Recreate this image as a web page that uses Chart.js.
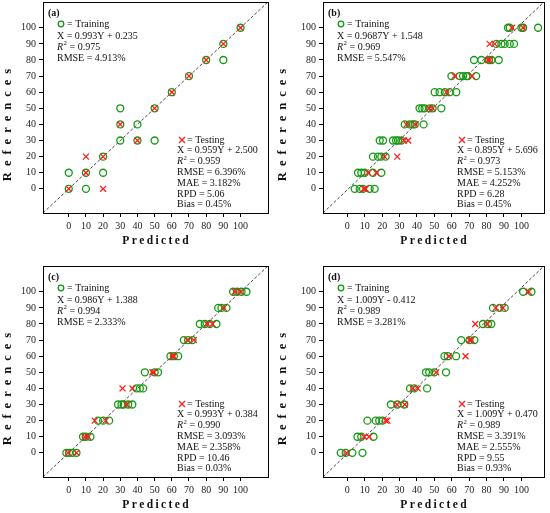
<!DOCTYPE html>
<html>
<head>
<meta charset="utf-8">
<script src="https://cdn.jsdelivr.net/npm/chart.js@4"></script>
<style>
  body { margin: 0; background: #fff; overflow: hidden; }
  #wrap { position: relative; width: 550px; height: 513px; }
  canvas { position: absolute; }
</style>
</head>
<body>
<div id="wrap">
  <canvas id="pa"></canvas>
  <canvas id="pb"></canvas>
  <canvas id="pc"></canvas>
  <canvas id="pd"></canvas>
</div>
<script>
// ticks shared by every panel
var tickValues = [0, 10, 20, 30, 40, 50, 60, 70, 80, 90, 100];
var yRange = [-15, 116];
var xRangeLeft = [-15, 116];
var xRangeRight = [-14, 113];

// (a)
var aTrainPred = [0, 0, 10, 10, 20, 20, 30, 30, 30, 40, 40, 50, 50, 60, 70, 80, 90, 90, 100];
var aTrainRef  = [0, 10, 0, 10, 10, 20, 30, 40, 50, 40, 30, 30, 50, 60, 70, 80, 90, 80, 100];
var aTestPred  = [0, 10, 10, 20, 20, 30, 40, 50, 60, 70, 80, 90, 100];
var aTestRef   = [0, 10, 20, 0, 20, 40, 30, 50, 60, 70, 80, 90, 100];

// (b)
var bTrainPred = [4.2, 7.1, 9, 12.8, 15.7, 6.1, 8, 10, 14.7, 19.5, 14.7, 17.6, 19.5, 22,
                  18.6, 20.5, 26.2, 28, 29.1, 31, 33, 35.8, 37.7, 38.7, 43.8,
                  41.5, 43, 44.4, 47.3, 49, 54, 50.2, 53, 56, 58.8, 62.6,
                  59.8, 64.6, 66.5, 68.4, 69.3, 74, 72.8, 77, 81.4, 82.8, 87,
                  85.6, 88.5, 90.4, 93.3, 95.8, 92.3, 93.3, 100, 101, 109.6];
var bTrainRef  = [0, 0, 0, 0, 0, 10, 10, 10, 10, 10, 20, 20, 20, 20,
                  30, 30, 30, 30, 30, 30, 40, 40, 40, 40, 40,
                  50, 50, 50, 50, 50, 50, 60, 60, 60, 60, 60,
                  70, 70, 70, 70, 70, 70, 80, 80, 80, 80, 80,
                  90, 90, 90, 90, 90, 100, 100, 100, 100, 100];
var bTestPred  = [9.5, 10.5, 11.9, 16.7, 21.4, 28.7, 32.5, 35, 34, 39, 47, 49, 57,
                  61.7, 71.6, 80.8, 81.8, 81.8, 84.7, 94.6, 101];
var bTestRef   = [0, 0, 10, 10, 20, 20, 30, 30, 40, 40, 50, 50, 60,
                  70, 70, 80, 80, 90, 90, 100, 100];

// (c)
var cTrainPred = [-1.4, 0.2, 2.1, 4.5, 8.3, 9.9, 12.6, 17, 20, 23.5, 28.7, 30.7, 32, 34.6, 37,
                  39.4, 41.4, 43.3, 44.3, 50, 52, 59.2, 61.2, 63.7, 67, 69.5, 72,
                  76.3, 79.2, 82.1, 86, 87, 88.9, 91.8, 95.7, 98, 100.6, 103.5];
var cTrainRef  = [0, 0, 0, 0, 10, 10, 10, 20, 20, 20, 30, 30, 30, 30, 30,
                  40, 40, 40, 50, 50, 50, 60, 60, 60, 70, 70, 70,
                  80, 80, 80, 80, 90, 90, 90, 100, 100, 100, 100];
var cTestPred  = [-0.4, 4.5, 9.3, 11.3, 15.1, 21.5, 33.6, 31.3, 37.1, 48.7, 49.5, 60.4, 61.2,
                  69.1, 72.8, 80.6, 83.7, 90.3, 96.7, 100];
var cTestRef   = [0, 0, 10, 10, 20, 20, 30, 40, 40, 50, 50, 60, 60,
                  70, 70, 80, 80, 90, 100, 100];

// (d)
var dTrainPred = [-3.8, -1, 2.9, 8.7, 5.8, 8, 15, 11.5, 16.3, 18.3, 20.2, 25, 28.8, 32.7,
                  36, 38.5, 45.8, 45.2, 47, 50, 56.7, 55.8, 57.7, 62.5, 65.4, 70.2, 73,
                  77.9, 80.8, 82.7, 83.7, 87.5, 90.4, 101, 105.8];
var dTrainRef  = [0, 0, 0, 0, 10, 10, 10, 20, 20, 20, 20, 30, 30, 30,
                  40, 40, 40, 50, 50, 50, 50, 60, 60, 60, 70, 70, 70,
                  80, 80, 80, 90, 90, 90, 100, 100];
var dTestPred  = [-0.4, 9.6, 12.5, 22, 23, 28.5, 33, 37.5, 40.4, 51, 58.3, 67.9,
                  70.2, 71.2, 73.5, 80.4, 85.2, 89.4, 104.2];
var dTestRef   = [0, 10, 10, 20, 20, 30, 30, 40, 40, 50, 60, 60,
                  70, 70, 80, 80, 90, 90, 100];

// statistics printed in each panel
var panelLabels = ['(a)', '(b)', '(c)', '(d)'];
var trainEq   = ['X = 0.993Y + 0.235', 'X = 0.9687Y + 1.548', 'X = 0.986Y + 1.388', 'X = 1.009Y - 0.412'];
var trainR2   = ['0.975', '0.969', '0.994', '0.989'];
var trainRmse = ['4.913%', '5.547%', '2.333%', '3.281%'];
var testEq    = ['X = 0.959Y + 2.500', 'X = 0.895Y + 5.696', 'X = 0.993Y + 0.384', 'X = 1.009Y + 0.470'];
var testR2    = ['0.959', '0.973', '0.990', '0.989'];
var testRmse  = ['6.396%', '5.153%', '3.093%', '3.391%'];
var testMae   = ['3.182%', '4.252%', '2.358%', '2.555%'];
var testRpd   = ['5.06', '6.28', '10.46', '9.55'];
var testBias  = ['0.45%', '0.45%', '0.03%', '0.93%'];

var GREEN = '#129a12';
var RED = '#ff1c1c';
var SERIF = '"Liberation Serif", "Times New Roman", serif';
var TXT = 10;

function pts(px, py) {
    return px.map(function (v, i) { return {x: v, y: py[i]}; });
}

// letter-spaced text centred on (cx, cy)
function spacedText(ctx, text, cx, cy, gap) {
    var chars = text.split('');
    var total = 0;
    chars.forEach(function (c) { total += ctx.measureText(c).width; });
    total += gap * (chars.length - 1);
    var x = cx - total / 2;
    ctx.textAlign = 'left';
    chars.forEach(function (c) {
        ctx.fillText(c, x, cy);
        x += ctx.measureText(c).width + gap;
    });
}

function drawR2(ctx, x, y, value) {
    ctx.font = 'italic ' + TXT + 'px ' + SERIF;
    ctx.fillText('R', x, y);
    var w = ctx.measureText('R').width;
    ctx.font = '6.8px ' + SERIF;
    ctx.fillText('2', x + w + 0.5, y - 3.5);
    var w2 = ctx.measureText('2').width;
    ctx.font = TXT + 'px ' + SERIF;
    ctx.fillText(' = ' + value, x + w + w2 + 0.5, y);
}

var annotate = {
    id: 'annotate',
    afterDraw: function (chart, args, opts) {
        var ctx = chart.ctx, ca = chart.chartArea, i = opts.idx;
        ctx.save();
        // frame
        ctx.strokeStyle = '#000';
        ctx.lineWidth = 1;
        ctx.strokeRect(Math.round(ca.left) + 0.5, Math.round(ca.top) + 0.5,
                       Math.round(ca.right - ca.left), Math.round(ca.bottom - ca.top));

        ctx.fillStyle = '#111';
        ctx.textBaseline = 'middle';
        ctx.textAlign = 'left';

        ctx.font = 'bold ' + TXT + 'px ' + SERIF;
        ctx.fillText(panelLabels[i], ca.left + 5, ca.top + 11);

        // training block
        var tx = ca.left + 14;
        ctx.strokeStyle = GREEN;
        ctx.lineWidth = 1.3;
        ctx.beginPath();
        ctx.arc(ca.left + 18, ca.top + 22, 2.8, 0, Math.PI * 2);
        ctx.stroke();
        ctx.font = TXT + 'px ' + SERIF;
        ctx.fillText('= Training', ca.left + 24, ca.top + 22);
        ctx.fillText(trainEq[i], tx, ca.top + 34);
        drawR2(ctx, tx, ca.top + 45, trainR2[i]);
        ctx.fillText('RMSE = ' + trainRmse[i], tx, ca.top + 56);

        // testing block
        var sx = ca.left + 134, sy = ca.top + 138, st = 10.8;
        var mx = ca.left + 139;
        ctx.strokeStyle = RED;
        ctx.lineWidth = 1.3;
        ctx.beginPath();
        ctx.moveTo(mx - 3, sy - 3); ctx.lineTo(mx + 3, sy + 3);
        ctx.moveTo(mx - 3, sy + 3); ctx.lineTo(mx + 3, sy - 3);
        ctx.stroke();
        ctx.fillText('= Testing', ca.left + 144, sy);
        ctx.fillText(testEq[i], sx, sy + st);
        drawR2(ctx, sx, sy + st * 2, testR2[i]);
        ctx.fillText('RMSE = ' + testRmse[i], sx, sy + st * 3);
        ctx.fillText('MAE = ' + testMae[i], sx, sy + st * 4);
        ctx.fillText('RPD = ' + testRpd[i], sx, sy + st * 5);
        ctx.fillText('Bias = ' + testBias[i], sx, sy + st * 6);

        // axis titles
        ctx.fillStyle = '#111';
        ctx.font = 'bold 11.5px ' + SERIF;
        spacedText(ctx, 'Predicted', (ca.left + ca.right) / 2, ca.bottom + 28.5, 2.4);
        ctx.save();
        ctx.translate(8, (ca.top + ca.bottom) / 2 + 17.5);
        ctx.rotate(-Math.PI / 2);
        ctx.font = 'bold 12.5px ' + SERIF;
        spacedText(ctx, 'References', 0, 0, 6);
        ctx.restore();
        ctx.restore();
    }
};

function axis(range) {
    return {
        type: 'linear',
        min: range[0],
        max: range[1],
        afterBuildTicks: function (s) { s.ticks = tickValues.map(function (v) { return {value: v}; }); },
        // the end labels sit well inside the axis, so no extra room is needed for them
        afterFit: function (s) { s.paddingTop = 0; s.paddingBottom = 0; s.paddingLeft = 0; s.paddingRight = 0; },
        border: {display: false},
        grid: {display: true, drawOnChartArea: false, drawTicks: true, tickLength: 4, color: '#000', lineWidth: 1},
        ticks: {autoSkip: false, maxRotation: 0, padding: 3, color: '#222',
                font: {family: SERIF, size: 10}}
    };
}

function makePanel(id, idx, trainPred, trainRef, testPred, testRef, g) {
    var cv = document.getElementById(id);
    cv.width = g.w; cv.height = g.h;
    cv.style.width = g.w + 'px'; cv.style.height = g.h + 'px';
    cv.style.left = g.left + 'px'; cv.style.top = g.top + 'px';

    return new Chart(cv.getContext('2d'), {
        type: 'scatter',
        data: {
            datasets: [{
                label: 'Testing',
                data: pts(testPred, testRef),
                pointStyle: 'crossRot',
                pointRadius: 4.2,
                borderColor: RED,
                borderWidth: 1.3
            }, {
                label: 'Training',
                data: pts(trainPred, trainRef),
                pointStyle: 'circle',
                pointRadius: 3.5,
                borderColor: GREEN,
                backgroundColor: 'rgba(0,0,0,0)',
                borderWidth: 1.3
            }, {
                label: '1:1',
                data: [{x: g.xr[0], y: yRange[0]}, {x: g.xr[1], y: yRange[1]}],
                showLine: true,
                pointRadius: 0,
                borderColor: '#333',
                borderWidth: 0.9,
                borderDash: [3, 2]
            }]
        },
        options: {
            responsive: false,
            animation: false,
            layout: {autoPadding: false, padding: g.pad},
            plugins: {legend: {display: false}, tooltip: {enabled: false}, annotate: {idx: idx}},
            scales: {
                x: axis(g.xr),
                y: axis(yRange)
            }
        },
        plugins: [annotate]
    });
}

makePanel('pa', 0, aTrainPred, aTrainRef, aTestPred, aTestRef,
    {left: 0, top: 0, w: 275, h: 256, pad: {top: 2, right: 7, left: 18, bottom: 21}, xr: xRangeLeft});
makePanel('pb', 1, bTrainPred, bTrainRef, bTestPred, bTestRef,
    {left: 275, top: 0, w: 275, h: 256, pad: {top: 2, right: 6, left: 23, bottom: 21}, xr: xRangeRight});
makePanel('pc', 2, cTrainPred, cTrainRef, cTestPred, cTestRef,
    {left: 0, top: 256, w: 275, h: 257, pad: {top: 10, right: 7, left: 18, bottom: 14}, xr: xRangeLeft});
makePanel('pd', 3, dTrainPred, dTrainRef, dTestPred, dTestRef,
    {left: 275, top: 256, w: 275, h: 257, pad: {top: 10, right: 6, left: 23, bottom: 14}, xr: xRangeRight});
</script>
</body>
</html>
